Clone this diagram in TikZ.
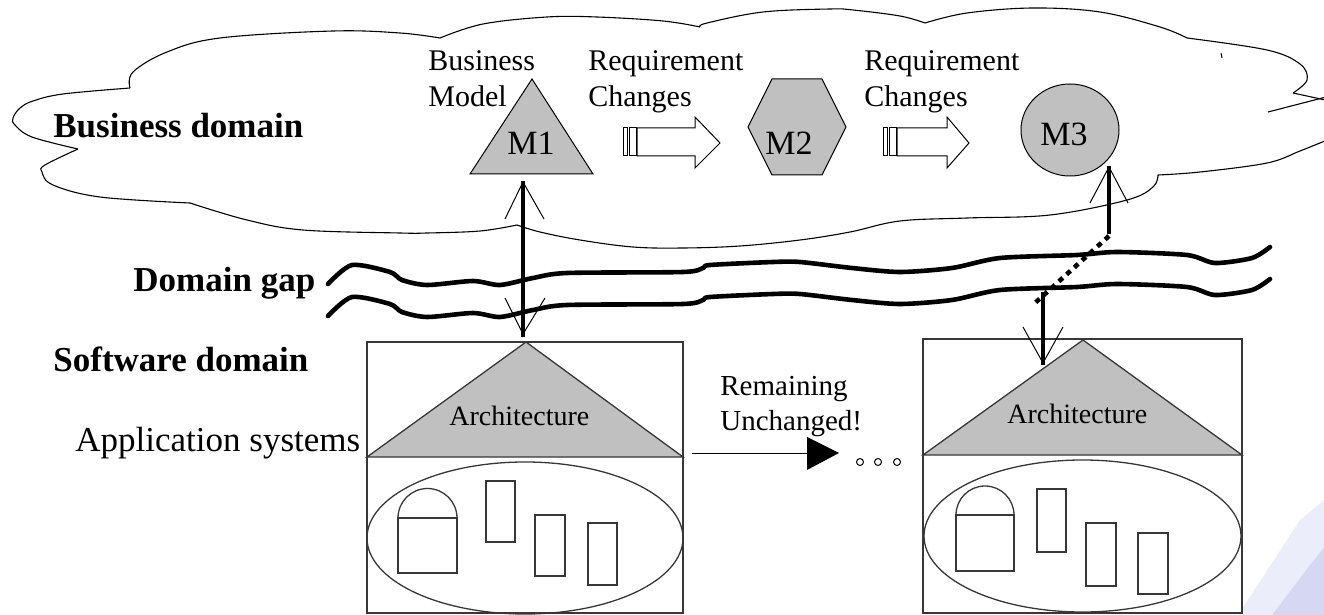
\documentclass[tikz,border=0pt]{standalone}
\usepackage{fontspec}
\setmainfont{Liberation Serif}
\usetikzlibrary{calc}
\definecolor{shapegray}{RGB}{192,192,192}
\definecolor{lav}{RGB}{214,216,243}
\definecolor{lavlight}{RGB}{236,237,250}
\definecolor{boxline}{RGB}{55,55,55}

\tikzset{
  cloudline/.style={line width=0.55pt, line join=round},
  gapline/.style={line width=2.3pt, line join=round, line cap=round},
  link/.style={line width=2.3pt},
  barb/.style={line width=0.5pt},
  model/.style={fill=shapegray, draw=black, line width=0.5pt},
  frame/.style={draw=boxline, line width=0.65pt},
  roof/.style={fill=shapegray, draw=boxline, line width=0.65pt},
  part/.style={draw=boxline, line width=0.65pt},
  blockarrow/.style={draw=black, line width=0.5pt, fill=white},
  txt/.style={inner sep=0pt, anchor=base west},
  bigbold/.style={txt, font=\fontsize{17.5}{21}\bfseries\selectfont},
  bigtext/.style={txt, font=\fontsize{17.5}{21}\selectfont},
  smalltext/.style={txt, font=\fontsize{15}{18}\selectfont},
  modeltext/.style={inner sep=0pt, anchor=base, font=\fontsize{17}{20}\selectfont},
  archtext/.style={txt, font=\fontsize{14}{17}\selectfont},
  gapwave/.pic={
    \draw[gapline] plot[smooth, tension=0.45] coordinates {
      (328,284) (352,265) (390,272) (402,280) (427,285) (473,281) (500,285)
      (533,278) (567,273) (683,272) (703,268) (710,265) (773,262) (800,262)
      (852,268) (900,272) (952,268) (1000,258) (1077,255) (1117,252)
      (1187,255) (1215,263) (1252,258) (1270,247)};
  }
}

\begin{document}
\begin{tikzpicture}[x=0.5pt, y=-0.5pt]
\useasboundingbox (0,0) rectangle (1324,615);
\clip (0,0) rectangle (1324,615);

% faint template wash in the lower right corner
\fill[lavlight] (1238,615) -- (1300,520) -- (1324,500) -- (1324,615) -- cycle;
\fill[lav] (1272,615) -- (1310,565) -- (1324,548) -- (1324,615) -- cycle;

% ---------- business domain cloud ----------
\draw[cloudline] plot[smooth, tension=0.6] coordinates {(130,88) (133,72) (167,52) (220,38) (333,31) (400,33) (440,38)};
\draw[cloudline] plot[smooth, tension=0.6] coordinates {(440,38) (483,24) (547,17) (597,17) (663,21) (700,27)};
\draw[cloudline] plot[smooth, tension=0.6] coordinates {(700,27) (707,23) (763,12) (830,9) (853,10) (900,16) (925,23)};
\draw[cloudline] plot[smooth, tension=0.6] coordinates {(925,23) (967,13) (1033,8) (1100,12) (1160,27) (1187,38)};
\draw[cloudline] plot[smooth, tension=0.6] coordinates {(1187,38) (1267,50) (1300,64) (1307,80) (1293,93)};
\draw[cloudline] (1293,93) -- (1330,101);
\draw[cloudline] (1268,112) -- (1330,96);
\draw[cloudline] plot[smooth, tension=0.6] coordinates {(1332,138) (1300,151) (1267,163) (1200,172) (1158,175)};
\draw[cloudline] plot[smooth, tension=0.6] coordinates {(1158,175) (1153,187) (1127,200) (1050,215) (967,218) (900,221) (850,232) (800,240) (740,246) (683,248) (633,247) (580,240) (540,232) (517,225)};
\draw[cloudline] plot[smooth, tension=0.6] coordinates {(517,225) (480,231) (427,233) (400,233) (303,230) (247,220) (190,203)};
\draw[cloudline] plot[smooth, tension=0.6] coordinates {(190,203) (100,197) (53,185) (42,172) (45,165) (78,149)};
\draw[cloudline] plot[smooth, tension=0.6] coordinates {(78,149) (32,137) (15,125) (13,118) (20,108) (33,101) (63,94) (130,88)};
\draw[line width=0.5pt] (1221,53) -- (1222,58);

% ---------- domain gap ----------
\pic (gapupper) at (0,0) {gapwave};
\pic (gaplower) at (0,32) {gapwave};

% ---------- labels on the left ----------
\node[bigbold] (busdom) at (53,138) {Business domain};
\node[bigbold] (gaplbl) at (133,292) {Domain gap};
\node[bigbold] (swdom) at (53,371) {Software domain};
\node[bigtext] (appsys) at (75,451) {Application systems};

% ---------- business models ----------
\coordinate (m1apex) at (532,79);
\path[model] (470,174) -- (m1apex) -- (593,174) -- cycle;
\node[modeltext] (m1) at (531,155) {M1};

\path[model] (772,79) -- (822,79) -- (846,127) -- (822,175) -- (772,175) -- (748,127) -- cycle;
\node[modeltext] (m2) at (789,155) {M2};

\path[model] (1070,130) ellipse [x radius=49, y radius=46];
\node[modeltext] (m3) at (1064,146) {M3};

\node[smalltext] (bm1) at (428,71) {Business};
\node[smalltext] (bm2) at (428,107) {Model};
\node[smalltext] (rc1a) at (588,71) {Requirement};
\node[smalltext] (rc1b) at (588,107) {Changes};
\node[smalltext] (rc2a) at (864,71) {Requirement};
\node[smalltext] (rc2b) at (864,107) {Changes};

% striped block arrows between the models
\draw[blockarrow] (623,128) rectangle (627,156);
\draw[blockarrow] (629,128) rectangle (636,156);
\draw[blockarrow] (637,128) -- (695,128) -- (695,117) -- (720,143) -- (695,168) -- (695,156) -- (637,156) -- cycle;

\draw[blockarrow] (883,128) rectangle (887,156);
\draw[blockarrow] (889,128) rectangle (896,156);
\draw[blockarrow] (897,128) -- (947,128) -- (947,117) -- (969,143) -- (947,168) -- (947,156) -- (897,156) -- cycle;

% ---------- application system 1 ----------
\draw[frame] (367,342) rectangle (683,613);
\coordinate (arch1apex) at (526,342);
\path[roof] (367,457) -- (arch1apex) -- (683,457) -- cycle;
\node[archtext] (arch1) at (449,425) {Architecture};
\draw[part] (525,538) ellipse [x radius=158, y radius=76];
\draw[part] (398,518) rectangle (457,573);
\draw[part] (398,518) arc[start angle=180, end angle=360, radius=29.5];
\draw[part] (486,481) rectangle (515,542);
\draw[part] (535,515) rectangle (565,576);
\draw[part] (588,523) rectangle (617,585);

% ---------- application system 2 ----------
\draw[frame] (923,339) rectangle (1242,613);
\coordinate (arch2apex) at (1083,340);
\path[roof] (923,455) -- (arch2apex) -- (1242,455) -- cycle;
\node[archtext] (arch2) at (1007,423) {Architecture};
\draw[part] (1082.5,536) ellipse [x radius=158.5, y radius=76];
\draw[part] (956,515) rectangle (1014,571);
\draw[part] (956,515) arc[start angle=180, end angle=360, radius=29];
\draw[part] (1037,489) rectangle (1066,552);
\draw[part] (1086,523) rectangle (1116,586);
\draw[part] (1138,533) rectangle (1168,594);

% ---------- M1 <-> architecture 1 ----------
\coordinate (m1foot) at (523,181);
\coordinate (a1head) at (523,337);
\draw[link] (m1foot) -- (a1head);
\draw[barb] ($(m1foot)+(-18,38)$) -- ($(m1foot)+(0,1)$) -- ($(m1foot)+(21,38)$);
\draw[barb] ($(a1head)+(-18,-39)$) -- ($(a1head)+(0,-3)$) -- ($(a1head)+(22,-39)$);

% ---------- M3 <-> architecture 2 (broken across the gap) ----------
\coordinate (m3foot) at (1109,166);
\coordinate (m3knee) at (1109,234);
\coordinate (gapcross) at (1035,303);
\coordinate (a2join) at (1043,292);
\coordinate (a2head) at (1043,365);
\draw[link] (m3foot) -- (m3knee);
\draw[link, dash pattern=on 2.6pt off 2.6pt] ($(m3knee)+(0,2)$) -- (gapcross);
\draw[link] (a2join) -- (a2head);
\draw[barb] ($(m3foot)+(-19,37)$) -- ($(m3foot)+(0,1)$) -- ($(m3foot)+(19,37)$);
\draw[barb] ($(a2head)+(-20,-38)$) -- ($(a2head)+(0,-2)$) -- ($(a2head)+(20,-38)$);

% ---------- remaining unchanged ----------
\node[archtext, font=\fontsize{14.5}{17}\selectfont] (rem1) at (720,395) {Remaining};
\node[archtext, font=\fontsize{14.5}{17}\selectfont] (rem2) at (720,430) {Unchanged!};
\coordinate (remstart) at (692,453);
\coordinate (remtip) at (839,453);
\draw[line width=0.5pt] (remstart) -- ($(remtip)+(-32,0)$);
\fill ($(remtip)+(-32,-16)$) -- (remtip) -- ($(remtip)+(-32,17)$) -- cycle;
\draw[line width=0.5pt] (860,462) circle[radius=3.5];
\draw[line width=0.5pt] (878,462) circle[radius=3.5];
\draw[line width=0.5pt] (897,462) circle[radius=3.5];
\end{tikzpicture}
\end{document}
